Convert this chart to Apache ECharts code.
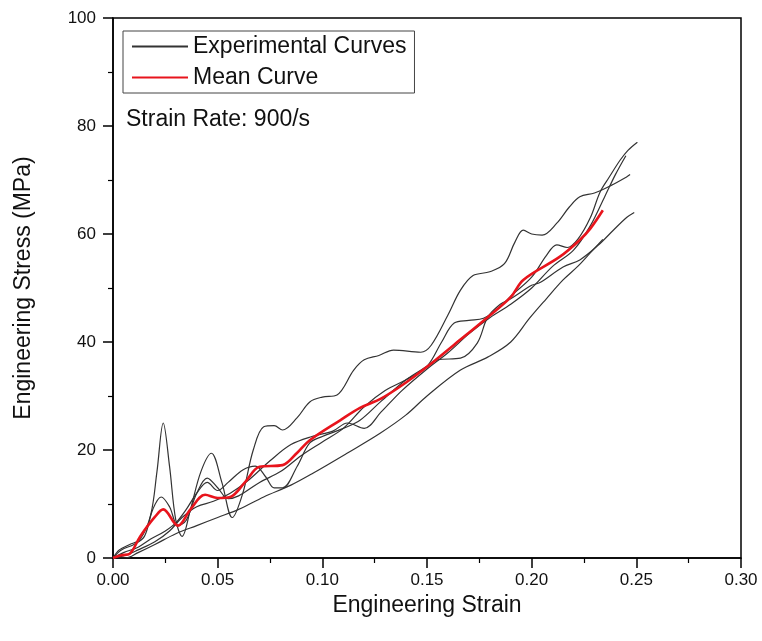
<!DOCTYPE html>
<html><head><meta charset="utf-8">
<script src="https://cdn.jsdelivr.net/npm/echarts@6/dist/echarts.min.js"></script>
<style>html,body{margin:0;padding:0;background:#fff}#c{width:762px;height:641px}</style>
</head><body><div id="c"></div>
<script>
// Experimental curve 1 (spiky, upper)
const e1x=[0,0.003,0.008,0.013,0.018,0.021,0.024,0.027,0.030,0.033,0.037,0.042,0.047,0.052,0.057,0.062,0.067,0.072,0.077,0.081,0.088,0.094,0.100,0.107,0.115,0.120,0.127,0.134,0.147,0.152,0.160,0.166,0.172,0.180,0.187,0.192,0.196,0.200,0.205,0.212,0.218,0.223,0.230,0.238,0.2455,0.247];
const e1y=[0,1.5,2.5,3.5,8,16,25,17,7,4,9,16,19.4,14,7.5,12,20,24.3,24.5,23.7,26,28.9,29.8,30.2,34.8,36.7,37.5,38.5,38.1,39.4,45,49.6,52.3,53,54.5,58.5,60.7,60,59.8,62,65,66.9,67.6,69,70.6,71];
// Experimental curve 2 (ends highest)
const e2x=[0,0.004,0.010,0.015,0.019,0.023,0.027,0.031,0.035,0.040,0.045,0.050,0.055,0.060,0.070,0.080,0.090,0.100,0.110,0.120,0.130,0.140,0.150,0.157,0.163,0.170,0.177,0.185,0.190,0.200,0.207,0.212,0.217,0.222,0.228,0.2327,0.237,0.2423,0.246,0.2505];
const e2y=[0,1.5,2.5,4,9,11.3,9.5,6,7,12,14.8,13,11,11.5,14,16,19,21.5,24,28,31,33,35.5,40,43.5,44,44.4,46.5,48.5,52,56,58,57.5,59,63,67.8,70.5,73.7,75.5,77];
// Experimental curve 3
const e3x=[0,0.005,0.012,0.018,0.025,0.030,0.035,0.040,0.045,0.050,0.055,0.062,0.068,0.073,0.077,0.081,0.088,0.094,0.100,0.110,0.118,0.128,0.140,0.150,0.155,0.166,0.174,0.179,0.185,0.190,0.200,0.204,0.215,0.223,0.232,0.239,0.2455,0.249];
const e3y=[0,1,2,3.5,5,6.5,9,12,14,12.5,14,16.3,17,15,13,13,17,21.3,22.5,24,25.5,29,33,35.5,36.7,37,39.8,44.6,47,48,50.5,51,53.9,55.2,58,60.7,63.1,64];
// Experimental curve 4
const e4x=[0,0.006,0.012,0.020,0.027,0.033,0.040,0.048,0.056,0.065,0.075,0.085,0.095,0.105,0.112,0.120,0.128,0.138,0.150,0.160,0.170,0.180,0.190,0.200,0.210,0.220,0.228,0.235,0.240,0.245];
const e4y=[0,0.5,1.5,3,5,7.5,9.5,10.5,12,14.5,18,21,22.5,23.5,25,24,27,31,35,38,41.5,44.5,47,50,54,57,61.5,67,71,74.5];
// Experimental curve 5 (lowest)
const e5x=[0,0.006,0.012,0.020,0.030,0.040,0.050,0.060,0.072,0.085,0.0955,0.1118,0.1276,0.140,0.150,0.166,0.179,0.190,0.199,0.207,0.215,0.222,0.228,0.234];
const e5y=[0,0,1,2.5,4.5,6,7.5,9,11.3,13.5,15.7,19.4,23.1,26.5,30,34.8,37.2,40,44.4,48,51.5,54,56.5,59];
// Mean curve
const mx=[0,0.004,0.008,0.013,0.020,0.024,0.031,0.037,0.044,0.050,0.056,0.063,0.070,0.081,0.088,0.094,0.1085,0.118,0.128,0.140,0.150,0.163,0.179,0.190,0.196,0.2135,0.223,0.228,0.234];
const my=[0,0.5,0.8,4,7.6,9,6,9,11.7,11.1,11.3,14,16.9,17.2,19.5,21.8,25.5,27.8,29.5,32.5,35.4,39.5,44.6,48.3,51.5,55.8,58.9,61,64.4];
const xTicks=[0,0.05,0.10,0.15,0.20,0.25,0.30];
const yTicks=[0,20,40,60,80,100];

const pairs=(xs,ys)=>xs.map((x,i)=>[x,ys[i]]);
const expSets=[[e1x,e1y],[e2x,e2y],[e3x,e3y],[e4x,e4y],[e5x,e5y]];
const FONT='"Liberation Sans", Arial, sans-serif';
const series=expSets.map(s=>({
  name:'Experimental Curves',type:'line',smooth:0.35,symbol:'none',
  data:pairs(s[0],s[1]),lineStyle:{color:'#333',width:1.2},itemStyle:{color:'#333'},z:2
}));
series.push({name:'Mean Curve',type:'line',smooth:0.35,symbol:'none',
  data:pairs(mx,my),lineStyle:{color:'#e8141c',width:2.6},itemStyle:{color:'#e8141c'},z:3});

const chart=echarts.init(document.getElementById('c'));
chart.setOption({
  animation:false,backgroundColor:'#fff',
  grid:{left:113,right:21,top:18,bottom:83,show:true,borderColor:'#000',borderWidth:1.5},
  title:{text:'Strain Rate: 900/s',left:121,top:103,textStyle:{fontFamily:FONT,fontSize:23,fontWeight:'normal',color:'#111'}},
  legend:{data:['Experimental Curves','Mean Curve'],orient:'vertical',left:123,top:31,
    itemWidth:56,itemHeight:14,itemGap:8,padding:[4,8,4,8],
    itemStyle:{opacity:0},
    borderColor:'#444',borderWidth:1,
    textStyle:{fontFamily:FONT,fontSize:23,color:'#111'}},
  xAxis:{type:'value',min:0,max:0.3,interval:0.05,
    name:'Engineering Strain',nameLocation:'middle',nameGap:26,
    nameTextStyle:{fontFamily:FONT,fontSize:23,color:'#111'},
    axisLine:{lineStyle:{color:'#000',width:1.5}},
    axisTick:{length:10,lineStyle:{color:'#000',width:1.5}},
    minorTick:{show:true,splitNumber:2,length:5,lineStyle:{color:'#000',width:1.2}},
    splitLine:{show:false},
    axisLabel:{fontFamily:FONT,fontSize:17,color:'#111',margin:14,formatter:v=>v.toFixed(2)}},
  yAxis:{type:'value',min:0,max:100,interval:20,
    name:'Engineering Stress (MPa)',nameLocation:'middle',nameGap:78,
    nameTextStyle:{fontFamily:FONT,fontSize:23,color:'#111'},
    axisLine:{lineStyle:{color:'#000',width:1.5}},
    axisTick:{length:10,lineStyle:{color:'#000',width:1.5}},
    minorTick:{show:true,splitNumber:2,length:5,lineStyle:{color:'#000',width:1.2}},
    splitLine:{show:false},
    axisLabel:{fontFamily:FONT,fontSize:17,color:'#111',margin:17}},
  series:series
});
</script></body></html>
